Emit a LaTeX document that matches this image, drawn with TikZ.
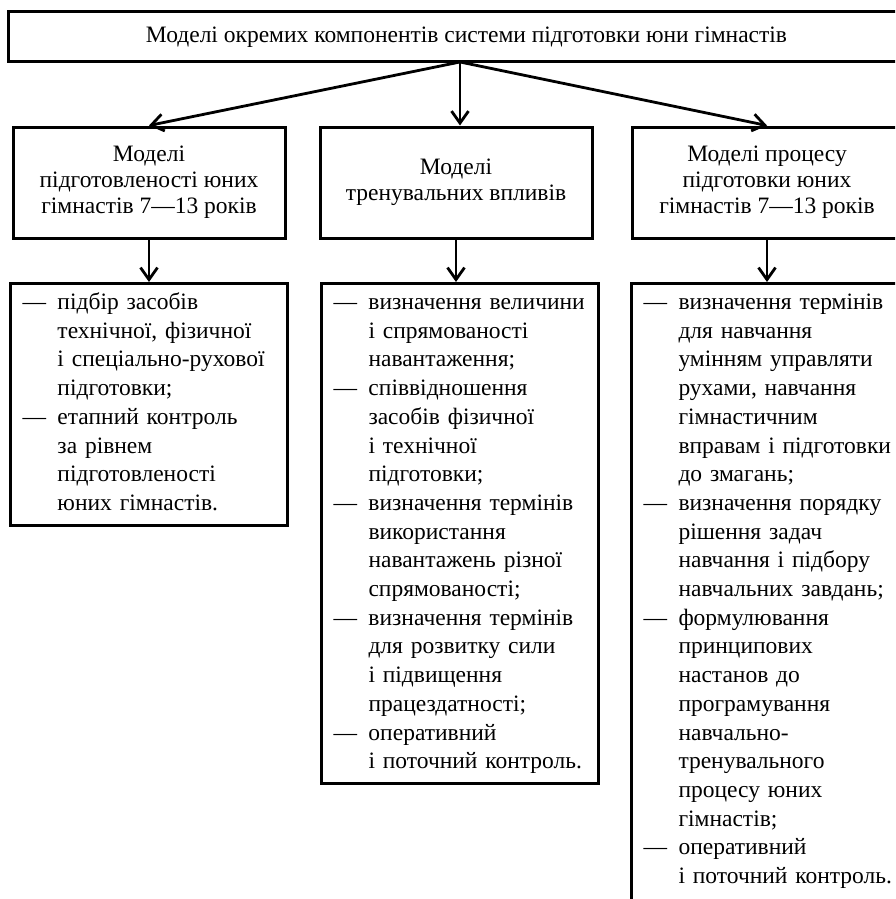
\documentclass[tikz,border=0pt]{standalone}
\usepackage{fontspec}
\setmainfont{Liberation Serif}
\usetikzlibrary{arrows.meta}
\begin{document}
\begin{tikzpicture}[x=1pt,y=-1pt,
  box/.style={draw, line width=3pt, inner sep=0pt},
  hdr/.style={box, align=center, minimum height=111pt, font=\fontsize{23.5}{26}\selectfont},
  lst/.style={box, anchor=north west, inner xsep=12pt, inner ysep=6pt, font=\fontsize{23.5}{28.7}\selectfont},
  arr/.style={line width=2.8pt, -{Straight Barb[length=12pt,width=17pt,line width=2.8pt]}}
]
\useasboundingbox (0,0) rectangle (895,899);
\clip (0,0) rectangle (895,899);
\fill[white] (0,0) rectangle (895,899);

% top box
\node[box, minimum width=917pt, minimum height=50pt, font=\fontsize{23.5}{26}\selectfont] (top) at (466.5,37)
  {Моделі окремих компонентів системи підготовки юни гімнастів};
\coordinate (o) at (460,62);

% headers
\node[hdr, minimum width=272pt] (h1) at (149,182.5)
  {Моделі\\підготовленості юних\\гімнастів 7—13 років};
\node[hdr, minimum width=272pt] (h2) at (456,182.5)
  {Моделі\\тренувальних впливів};
\node[hdr, minimum width=270pt] (h3) at (767,182.5)
  {Моделі процесу\\підготовки юних\\гімнастів 7—13 років};

% lists
\node[lst, text width=253pt] (l1) at (9,282)
  {\begin{tabular}{@{}p{35pt}@{}l@{}}
   — & підбір засобів\\
     & технічної, фізичної\\
     & і спеціально-рухової\\
     & підготовки;\\
   — & етапний контроль\\
     & за рівнем\\
     & підготовленості\\
     & юних гімнастів.
   \end{tabular}};
\node[lst, text width=253pt] (l2) at (320,282)
  {\begin{tabular}{@{}p{35pt}@{}l@{}}
   — & визначення величини\\
     & і спрямованості\\
     & навантаження;\\
   — & співвідношення\\
     & засобів фізичної\\
     & і технічної\\
     & підготовки;\\
   — & визначення термінів\\
     & використання\\
     & навантажень різної\\
     & спрямованості;\\
   — & визначення термінів\\
     & для розвитку сили\\
     & і підвищення\\
     & працездатності;\\
   — & оперативний\\
     & і поточний контроль.
   \end{tabular}};
\node[lst, text width=300pt] (l3) at (630,282)
  {\begin{tabular}{@{}p{35pt}@{}l@{}}
   — & визначення термінів\\
     & для навчання\\
     & умінням управляти\\
     & рухами, навчання\\
     & гімнастичним\\
     & вправам і підготовки\\
     & до змагань;\\
   — & визначення порядку\\
     & рішення задач\\
     & навчання і підбору\\
     & навчальних завдань;\\
   — & формулювання\\
     & принципових\\
     & настанов до\\
     & програмування\\
     & навчально-\\
     & тренувального\\
     & процесу юних\\
     & гімнастів;\\
   — & оперативний\\
     & і поточний контроль.\\
     & \\
   \end{tabular}};

% connectors
\draw[arr] (o) -- (h1.north);
\draw[arr] (o) -- (o |- h2.north);
\draw[arr] (o) -- (h3.north);
\draw[arr] (h1.south) -- (h1.south |- l1.north);
\draw[arr] (h2.south) -- (h2.south |- l2.north);
\draw[arr] (h3.south) -- (h3.south |- l3.north);
\end{tikzpicture}
\end{document}
